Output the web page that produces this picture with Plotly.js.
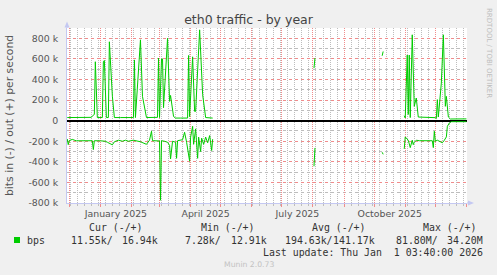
<!DOCTYPE html>
<html>
<head>
<meta charset="utf-8">
<script src="https://cdn.plot.ly/plotly-3.0.1.min.js"></script>
<style>
html,body{margin:0;padding:0;background:#F0F0F0;}
#chart{width:497px;height:275px;}
</style>
</head>
<body>
<div id="chart"></div>
<script>
// ---- data (values in kbit/s) ----
const monthStarts = ['2024-12-01','2025-01-01','2025-02-01','2025-03-01','2025-04-01','2025-05-01','2025-06-01','2025-07-01','2025-08-01','2025-09-01','2025-10-01','2025-11-01','2025-12-01','2026-01-01'];
const labelDates = ['2025-01-16 12:00','2025-04-16','2025-07-16 12:00','2025-10-16 12:00'];
const labelText = ['January 2025','April 2025','July 2025','October 2025'];
const yTickVals = [-800,-600,-400,-200,0,200,400,600,800];
const yTickText = ['-800 k','-600 k','-400 k','-200 k','0','200 k','400 k','600 k','800 k'];

const outDates = ['2024-11-29','2024-12-07','2024-12-17','2024-12-23','2024-12-24','2024-12-26','2024-12-27','2024-12-28','2024-12-29','2025-01-03','2025-01-04','2025-01-05','2025-01-07','2025-01-09','2025-01-10','2025-01-13','2025-01-15','2025-01-21','2025-01-26','2025-02-03','2025-02-04','2025-02-05','2025-02-10','2025-02-12','2025-02-16','2025-02-20','2025-02-27','2025-02-28','2025-03-01','2025-03-03','2025-03-04','2025-03-05','2025-03-09','2025-03-11','2025-03-12','2025-03-15','2025-03-17','2025-03-22','2025-03-29','2025-03-30','2025-03-31','2025-04-03','2025-04-05','2025-04-06','2025-04-10','2025-04-13','2025-04-15','2025-04-16','2025-04-23',
  '2025-06-01','2025-08-02','2025-08-03','2025-09-01','2025-10-09','2025-10-10','2025-10-20',
  '2025-10-31','2025-11-01','2025-11-03','2025-11-04','2025-11-05','2025-11-06','2025-11-08','2025-11-10','2025-11-12','2025-11-14','2025-12-01','2025-12-02','2025-12-03','2025-12-04','2025-12-07','2025-12-09','2025-12-11','2025-12-12','2025-12-14','2025-12-16','2026-01-01'];
const outK = [30,30,30,32,45,60,572,368,30,30,572,585,30,30,766,236,30,30,30,30,590,30,785,236,30,30,32,608,30,600,600,126,800,187,245,40,25,25,25,633,40,620,90,90,882,252,58,30,25,
  null,510,608,null,630,672,null,
  48,26,637,60,637,30,834,139,220,35,29,20,204,35,365,834,139,236,35,16,17];

const inDates = ['2024-11-29','2024-11-30','2024-12-01','2024-12-04','2024-12-08','2024-12-14','2024-12-20','2024-12-24','2024-12-25','2024-12-26','2025-01-01','2025-01-06','2025-01-08','2025-01-11','2025-01-13','2025-01-15','2025-01-19','2025-01-23','2025-01-26','2025-01-29','2025-02-03','2025-02-10','2025-02-16','2025-02-19','2025-02-21','2025-02-22','2025-03-01','2025-03-02','2025-03-03','2025-03-06','2025-03-09','2025-03-11','2025-03-12','2025-03-14','2025-03-17','2025-03-18','2025-03-19','2025-03-24','2025-03-26','2025-03-28','2025-03-31','2025-04-01','2025-04-03','2025-04-04','2025-04-06','2025-04-08','2025-04-09','2025-04-11','2025-04-12','2025-04-14','2025-04-16','2025-04-18','2025-04-20','2025-04-22','2025-04-23',
  '2025-06-01','2025-08-02','2025-08-03','2025-09-01','2025-10-09','2025-10-10','2025-10-20',
  '2025-10-31','2025-11-01','2025-11-02','2025-11-04','2025-11-06','2025-11-08','2025-11-09','2025-11-10','2025-11-12','2025-11-15','2025-11-28','2025-11-29','2025-11-30','2025-12-01','2025-12-03','2025-12-05','2025-12-08','2025-12-10','2025-12-12','2025-12-13','2025-12-15','2025-12-17','2026-01-01'];
const inK = [-178,-233,-194,-182,-196,-195,-200,-195,-281,-195,-196,-200,-210,-225,-235,-205,-190,-200,-190,-200,-190,-205,-230,-190,-103,-195,-197,-773,-195,-200,-210,-240,-372,-200,-210,-366,-195,-185,-113,-210,-394,-160,-55,-230,-80,-366,-160,-300,-170,-230,-160,-215,-145,-290,-180,
  null,-443,-265,null,-307,-327,null,
  -275,-158,-170,-190,-262,-190,-233,-210,-190,-195,-195,-262,-103,-200,-190,-200,-215,-190,-158,-55,-23,-10,-10];

const legendHead = ['Cur (-/+)','Min (-/+)','Avg (-/+)','Max (-/+)'];
const legendVals = ['11.55k/','16.94k','7.28k/','12.91k','194.63k/','141.17k','81.80M/','34.20M'];
const seriesName = 'bps';
const lastUpdate = 'Last update: Thu Jan\u00A0\u00A01 03:40:00 2026';

// ---- layout helpers (pixel -> paper) ----
const L=67, R=467, T=28, B=203, W=R-L, H=B-T;
const px = x => (x-L)/W;
const py = y => (B-y)/H;
const range = ['2024-11-28 18:00','2026-01-01 14:00'];
const yRange = [-800,900];
const green = '#00CC00';
const axisBlue = '#C4C8F2';
const majorGrid = '#F08C8C';
const minorGrid = '#BDBDBD';
const dashV = '1px,1px';
const dashH = 'dot';

const traces = [
  {type:'scatter', mode:'lines', x:outDates, y:outK, line:{color:green, width:1}, connectgaps:false, hoverinfo:'skip', showlegend:false},
  {type:'scatter', mode:'lines', x:inDates, y:inK, line:{color:green, width:1}, connectgaps:false, hoverinfo:'skip', showlegend:false},
  {type:'scatter', mode:'lines', x:[labelDates[0]], y:[null], xaxis:'x2', yaxis:'y', hoverinfo:'skip', showlegend:false}
];

const mono = {family:'DejaVu Sans Mono', size:9.9, color:'#333'};
const ann = [];
function A(text, x, y, xanchor, font, extra){
  ann.push(Object.assign({text:text, x:px(x), y:py(y), xref:'paper', yref:'paper', xanchor:xanchor, yanchor:'middle', showarrow:false, font:font, borderpad:0, borderwidth:0}, extra||{}));
}
A('bits in (-) / out (+) per second', 9, 116, 'center', {family:'DejaVu Sans', size:10.8, color:'#555'}, {textangle:-90});
A('RRDTOOL / TOBI OETIKER', 489, 53, 'center', {family:'DejaVu Sans', size:7, color:'#BDBDBD'}, {textangle:90});
const headX = [89.3, 201, 312.3, 422.7];
legendHead.forEach((t,i)=>A(t, headX[i], 227.5, 'left', mono));
A(seriesName, 26.7, 240, 'left', mono);
const valEnds = [113.3, 157.7, 220.7, 266.7, 332.7, 375, 438.3, 483];
legendVals.forEach((t,i)=>A(t, valEnds[i], 240, 'right', mono));
A(lastUpdate, 483, 252, 'right', mono);
A('Munin 2.0.73', 248.5, 264, 'center', {family:'DejaVu Sans', size:7.7, color:'#C2C2C2'});

const shapes = [
  {type:'rect', xref:'paper', yref:'paper', x0:px(14), x1:px(20), y0:py(243), y1:py(237), fillcolor:green, line:{width:0}},
  {type:'path', xref:'paper', yref:'paper', path:`M ${px(64.5)},${py(27.5)} L ${px(69.5)},${py(27.5)} L ${px(67)},${py(21.5)} Z`, fillcolor:axisBlue, line:{width:0}},
  {type:'line', xref:'paper', yref:'paper', x0:px(67), x1:px(67), y0:py(28), y1:py(26), line:{color:axisBlue, width:1}},
  {type:'line', xref:'paper', yref:'paper', x0:px(467), x1:px(469), y0:py(203), y1:py(203), line:{color:axisBlue, width:1}},
  {type:'path', xref:'paper', yref:'paper', path:`M ${px(468)},${py(200.5)} L ${px(468)},${py(205.5)} L ${px(474)},${py(203)} Z`, fillcolor:axisBlue, line:{width:0}}
];

const tickFont = {family:'DejaVu Sans', size:9.4, color:'#555'};

const layout = {
  width:497, height:275,
  paper_bgcolor:'#F0F0F0', plot_bgcolor:'#FFFFFF',
  margin:{l:L, r:497-R, t:T, b:275-B, pad:0},
  title:{text:'eth0 traffic - by year', font:{family:'DejaVu Sans', size:12.5, color:'#444'}, x:0.5, xref:'container', xanchor:'center', y:1-19.5/275, yref:'container', yanchor:'middle'},
  showlegend:false,
  hovermode:false,
  xaxis:{
    type:'date', range:range, fixedrange:true,
    tickmode:'array', tickvals:monthStarts, showticklabels:false,
    showgrid:true, gridcolor:majorGrid, gridwidth:1, griddash:dashV,
    ticks:'outside', ticklen:3, tickcolor:majorGrid, tickwidth:1,
    showline:true, linecolor:axisBlue, linewidth:1, zeroline:false,
    minor:{tickmode:'linear', tick0:'2024-12-02', dtick:7*86400000, showgrid:true, gridcolor:minorGrid, griddash:dashV, gridwidth:1, ticks:'outside', ticklen:2, tickcolor:minorGrid}
  },
  xaxis2:{
    type:'date', range:range, overlaying:'x', anchor:'y', side:'bottom', fixedrange:true,
    tickmode:'array', tickvals:labelDates, ticktext:labelText,
    showgrid:false, ticks:'outside', ticklen:2, tickcolor:'rgba(0,0,0,0)', showline:false, zeroline:false,
    tickfont:tickFont
  },
  yaxis:{
    range:yRange, fixedrange:true,
    tickmode:'array', tickvals:yTickVals, ticktext:yTickText,
    showgrid:true, gridcolor:majorGrid, gridwidth:1, griddash:dashH,
    zeroline:true, zerolinecolor:'#000000', zerolinewidth:2,
    showline:true, linecolor:axisBlue, linewidth:1,
    ticks:'outside', ticklen:6, tickcolor:'rgba(0,0,0,0)', tickfont:tickFont,
    minor:{tickmode:'linear', tick0:0, dtick:100, showgrid:true, gridcolor:minorGrid, griddash:dashH, gridwidth:1}
  },
  annotations:ann,
  shapes:shapes
};

Plotly.newPlot('chart', traces, layout, {displayModeBar:false, staticPlot:true});
</script>
</body>
</html>
